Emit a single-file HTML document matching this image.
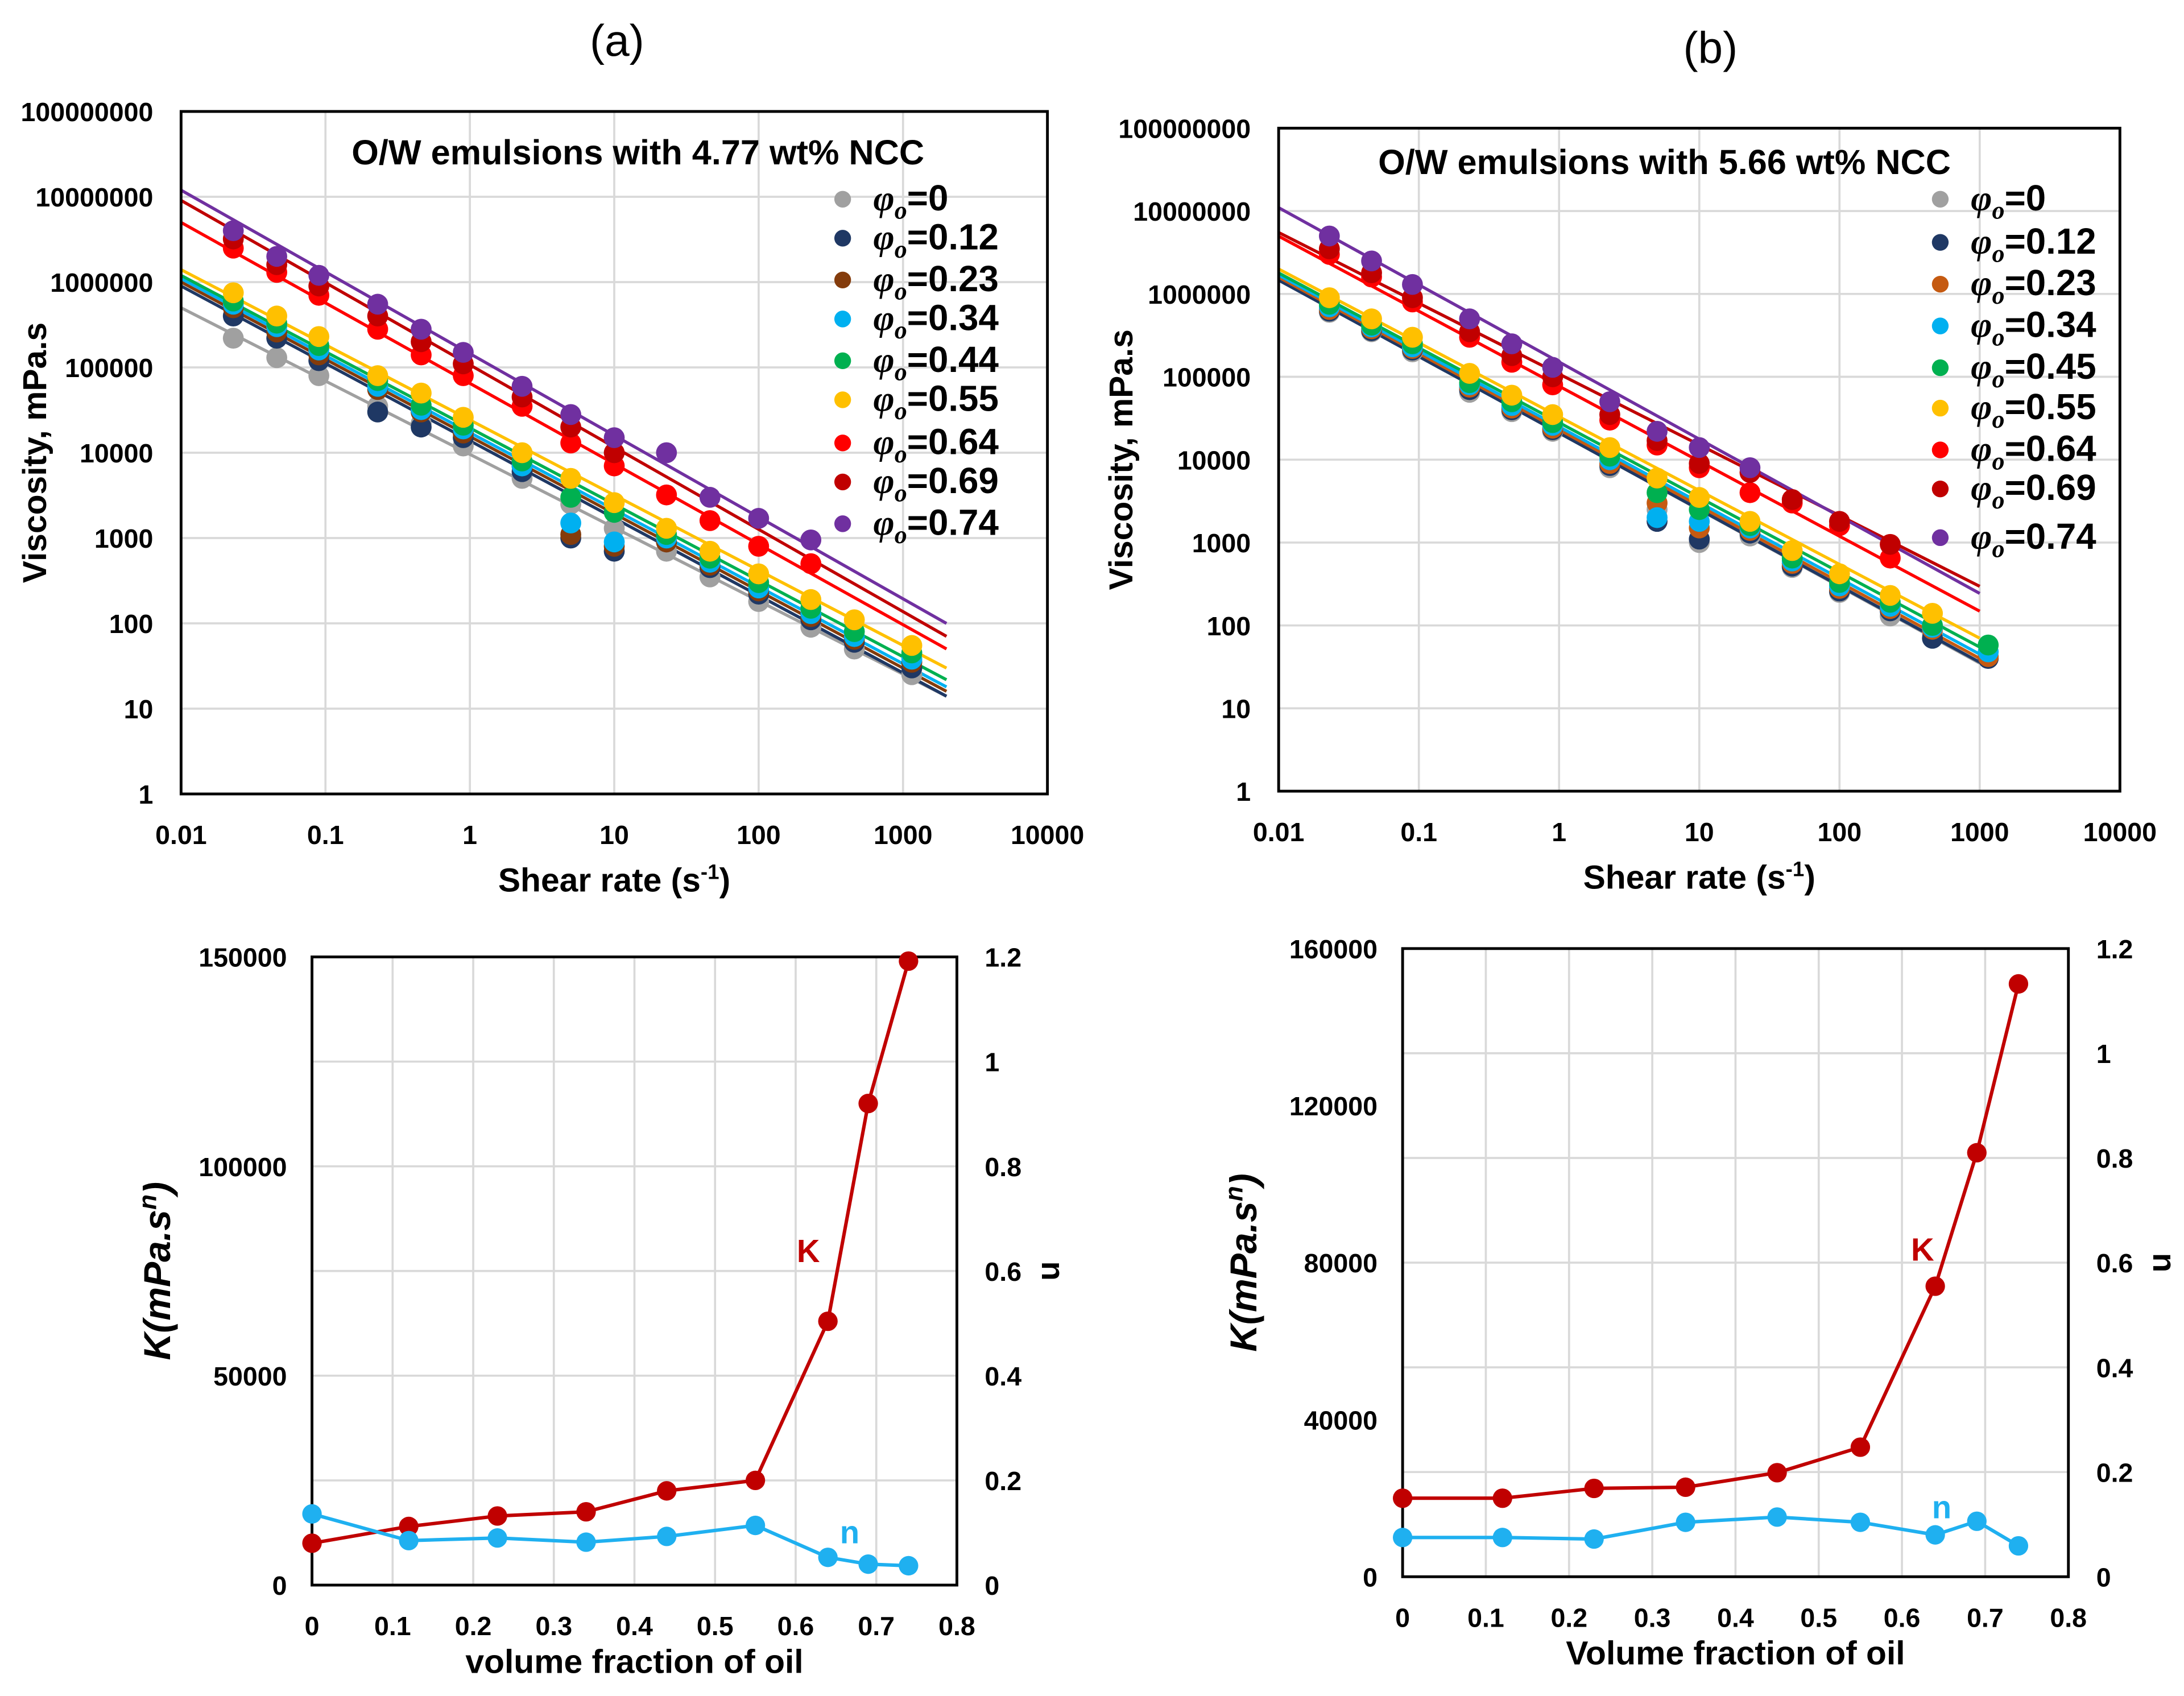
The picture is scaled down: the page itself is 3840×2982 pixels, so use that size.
<!DOCTYPE html>
<html><head><meta charset="utf-8"><style>
html,body{margin:0;padding:0;background:#fff}
svg{display:block}
text{font-family:"Liberation Sans",sans-serif}
</style></head><body>
<svg id="fig" width="3840" height="2982" viewBox="0 0 1568 1217.6" xmlns="http://www.w3.org/2000/svg"></svg>
<script>
// ---------- DATA ----------
const seriesLabelsA = ["0","0.12","0.23","0.34","0.44","0.55","0.64","0.69","0.74"];
const seriesLabelsB = ["0","0.12","0.23","0.34","0.45","0.55","0.64","0.69","0.74"];
const colorsA = ["#a0a0a0","#1f3864","#843c0c","#00b0f0","#00b050","#ffc000","#ff0000","#c00000","#7030a0"];
const colorsB = ["#a0a0a0","#1f3864","#c55a11","#00b0f0","#00b050","#ffc000","#ff0000","#c00000","#7030a0"];
const shearRates = [0.023,0.046,0.09,0.23,0.46,0.9,2.3,5,10,23,46,100,230,460,1150];
const viscA0 = [2.2e5,1.3e5,8e4,3.5e4,2.2e4,1.2e4,5e3,2.5e3,1.3e3,700,350,180,90,50,25];
const viscA1 = [4e5,2.2e5,1.2e5,3e4,2e4,1.5e4,6e3,1e3,700,900,450,220,110,60,30];
const viscA2 = [5e5,2.6e5,1.4e5,5.5e4,3e4,1.7e4,7e3,1.1e3,800,900,480,240,120,65,35];
const viscA3 = [5.5e5,3e5,1.6e5,6e4,3.2e4,1.9e4,7e3,1.5e3,900,1e3,520,260,130,70,38];
const viscA4 = [6e5,3.3e5,1.8e5,7e4,3.6e4,2.1e4,8e3,3e3,2e3,1.1e3,580,300,150,80,45];
const viscA5 = [7.5e5,4e5,2.3e5,8e4,5e4,2.6e4,1e4,5e3,2.6e3,1.3e3,700,380,190,110,55];
const viscA6 = [2.5e6,1.3e6,7e5,2.8e5,1.4e5,8e4,3.5e4,1.3e4,7e3,3.2e3,1.6e3,800,500,null,null];
const viscA7 = [3.2e6,1.6e6,9e5,4e5,2e5,1.1e5,4.5e4,2e4,1e4,null,null,null,null,null,null];
const viscA8 = [4e6,2e6,1.2e6,5.5e5,2.8e5,1.5e5,6e4,2.8e4,1.5e4,1e4,3e3,1.7e3,950,null,null];
const viscB0 = [6e5,3.5e5,2e5,6.5e4,3.8e4,2.2e4,8e3,2.5e3,1e3,1.2e3,500,250,130,80,40];
const viscB1 = [6.2e5,3.6e5,2.1e5,7e4,4e4,2.3e4,8.5e3,1.8e3,1.1e3,1.3e3,520,260,150,70,40];
const viscB2 = [6.5e5,3.8e5,2.2e5,7.5e4,4.2e4,2.4e4,9e3,3e3,1.5e3,1.4e3,560,280,160,90,42];
const viscB3 = [7e5,4e5,2.3e5,8e4,4.5e4,2.6e4,1e4,2e3,1.8e3,1.5e3,600,300,170,95,48];
const viscB4 = [7.5e5,4.2e5,2.5e5,8.5e4,5e4,2.8e4,1.1e4,4e3,2.5e3,1.6e3,650,330,190,100,58];
const viscB5 = [9e5,5e5,3e5,1.1e5,6e4,3.5e4,1.4e4,6e3,3.5e3,1.8e3,800,420,230,140,null];
const viscB6 = [3e6,1.6e6,8e5,3e5,1.5e5,8e4,3e4,1.5e4,8e3,4e3,3e3,1.6e3,650,null,null];
const viscB7 = [3.5e6,1.8e6,9e5,3.5e5,1.8e5,1e5,3.5e4,1.7e4,9e3,7e3,3.3e3,1.8e3,950,null,null];
const viscB8 = [5e6,2.5e6,1.3e6,5e5,2.5e5,1.3e5,5e4,2.2e4,1.4e4,8e3,null,null,null,null,null];
const kFitA = [9570,13800,15500,17200,19500,24200,65000,107000,145000];
const sFitA = [-0.859,-0.907,-0.905,-0.903,-0.894,-0.881,-0.943,-0.964,-0.958];
const kFitB = [21000,21000,23000,25000,28000,33000,77000,108000,151000];
const sFitB = [-0.926,-0.922,-0.92,-0.915,-0.903,-0.891,-0.905,-0.854,-0.931];
const oilA = [0,0.12,0.23,0.34,0.44,0.55,0.64,0.69,0.74];
const kA = [10000,14000,16500,17500,22500,25000,63000,115000,149000];
const nA = [0.136,0.085,0.09,0.082,0.093,0.114,0.053,0.04,0.037];
const oilB = [0,0.12,0.23,0.34,0.45,0.55,0.64,0.69,0.74];
const kB = [20000,20000,22500,22800,26500,33000,74000,108000,151000];
const nB = [0.075,0.075,0.072,0.104,0.114,0.104,0.08,0.106,0.059];
const logXTicks = ["0.01","0.1","1","10","100","1000","10000"];
const logYTicks = ["1","10","100","1000","10000","100000","1000000","10000000","100000000"];
const kTicksA = ["0","50000","100000","150000"];
const kTicksB = ["0","40000","80000","120000","160000"];
const nTicks = ["0","0.2","0.4","0.6","0.8","1","1.2"];
const fracTicks = ["0","0.1","0.2","0.3","0.4","0.5","0.6","0.7","0.8"];
const viscA = [viscA0,viscA1,viscA2,viscA3,viscA4,viscA5,viscA6,viscA7,viscA8];
const viscB = [viscB0,viscB1,viscB2,viscB3,viscB4,viscB5,viscB6,viscB7,viscB8];

// ---------- DRAW ----------
const svg = document.getElementById('fig');
const NS = "http://www.w3.org/2000/svg";
function mk(tag, attrs, parent, txt){
  const e = document.createElementNS(NS, tag);
  for (const k in attrs) e.setAttribute(k, attrs[k]);
  if (txt !== undefined) e.textContent = txt;
  (parent||svg).appendChild(e);
  return e;
}
function grp(name){
  const g = mk('g', {});
  
  
  return g;
}

function logChart(o){
  const g = grp(o.name);
  const X = v => o.x0 + (Math.log10(v) + 2) * (o.x1 - o.x0) / 6;
  const Y = v => o.y1 - Math.log10(v) * (o.y1 - o.y0) / 8;
  const grid = grp(o.name + '-grid'); g.appendChild(grid);
  logXTicks.forEach(t => { const x = X(+t); mk('line',{x1:x,x2:x,y1:o.y0,y2:o.y1,stroke:'#d9d9d9','stroke-width':1.5},grid); });
  logYTicks.forEach(t => { const y = Y(+t); mk('line',{x1:o.x0,x2:o.x1,y1:y,y2:y,stroke:'#d9d9d9','stroke-width':1.5},grid); });
  const tl = grp(o.name + '-tick-labels'); g.appendChild(tl);
  logXTicks.forEach(t => mk('text',{x:X(+t),y:o.y1+36,'text-anchor':'middle','font-size':19,'font-weight':'bold'},tl,t));
  logYTicks.forEach(t => mk('text',{x:o.x0-20,y:Y(+t)+7,'text-anchor':'end','font-size':19,'font-weight':'bold'},tl,t));
  const fits = grp(o.name + '-fit-lines'); g.appendChild(fits);
  o.K.forEach((k,i) => {
    const a = 0.01, b = o.xEnd;
    const l = mk('line',{x1:X(a),y1:Y(k*Math.pow(a,o.S[i])),x2:X(b),y2:Y(k*Math.pow(b,o.S[i])),stroke:o.colors[i],'stroke-width':2.2},fits);
    
    
  });
  o.data.forEach((arr,i) => {
    const sg = grp(o.name + '-series-' + o.labels[i]); g.appendChild(sg);
    arr.forEach((v,j) => { if (v == null) return;
      mk('circle',{cx:X(shearRates[j]),cy:Y(v),r:7.5,fill:o.colors[i]},sg); });
  });
  mk('rect',{x:o.x0,y:o.y0,width:o.x1-o.x0,height:o.y1-o.y0,fill:'none',stroke:'#000','stroke-width':2},g);
  const tt = mk('text',{x:o.titleX,y:o.titleY,'text-anchor':'middle','font-size':25,'font-weight':'bold'},g,o.title);
   
  const lg = grp(o.name + '-legend'); g.appendChild(lg);
  o.labels.forEach((lab,i) => {
    const y = o.legY[i];
    const e = grp('legend-entry-' + lab); lg.appendChild(e);
    mk('circle',{cx:o.legX,cy:y-8,r:6,fill:o.colors[i]},e);
    const t = mk('text',{x:o.legX+22,y:y,'font-size':26,'font-weight':'bold'},e);
    mk('tspan',{'font-family':'Liberation Serif, serif','font-style':'italic'},t,'φ');
    mk('tspan',{'font-family':'Liberation Serif, serif','font-style':'italic','font-size':18,dy:6},t,'o');
    mk('tspan',{dy:-6},t,'=' + lab);
  });
  const yl = mk('text',{transform:`translate(${o.yLabX},${(o.y0+o.y1)/2}) rotate(-90)`,'text-anchor':'middle','font-size':24,'font-weight':'bold'},g,'Viscosity, mPa.s');
   
  const xl = mk('text',{x:(o.x0+o.x1)/2,y:o.y1+70,'text-anchor':'middle','font-size':24,'font-weight':'bold'},g);
   
  mk('tspan',{},xl,'Shear rate (s');
  mk('tspan',{dy:-9,'font-size':15},xl,'-1');
  mk('tspan',{dy:9},xl,')');
}

function linChart(o){
  const g = grp(o.name);
  const X = v => o.x0 + v/0.8*(o.x1-o.x0);
  const YL = v => o.y1 - v/o.kMax*(o.y1-o.y0);
  const YR = v => o.y1 - v/1.2*(o.y1-o.y0);
  const grid = grp(o.name + '-grid'); g.appendChild(grid);
  fracTicks.forEach(t => { const x = X(+t); mk('line',{x1:x,x2:x,y1:o.y0,y2:o.y1,stroke:'#d9d9d9','stroke-width':1.5},grid); });
  nTicks.forEach(t => { const y = YR(+t); mk('line',{x1:o.x0,x2:o.x1,y1:y,y2:y,stroke:'#d9d9d9','stroke-width':1.5},grid); });
  const tl = grp(o.name + '-tick-labels'); g.appendChild(tl);
  fracTicks.forEach(t => mk('text',{x:X(+t),y:o.y1+36,'text-anchor':'middle','font-size':19,'font-weight':'bold'},tl,t));
  o.kTicks.forEach(t => mk('text',{x:o.x0-18,y:YL(+t)+7,'text-anchor':'end','font-size':19,'font-weight':'bold'},tl,t));
  nTicks.forEach(t => mk('text',{x:o.x1+20,y:YR(+t)+7,'font-size':19,'font-weight':'bold'},tl,t));
  mk('rect',{x:o.x0,y:o.y0,width:o.x1-o.x0,height:o.y1-o.y0,fill:'none',stroke:'#000','stroke-width':2},g);
  const kg = grp(o.name + '-K-series'); g.appendChild(kg);
  mk('polyline',{points:o.oil.map((x,i)=>X(x)+','+YL(o.k[i])).join(' '),fill:'none',stroke:'#c00000','stroke-width':2.5},kg);
  o.oil.forEach((x,i)=>mk('circle',{cx:X(x),cy:YL(o.k[i]),r:7,fill:'#c00000'},kg));
  const ng = grp(o.name + '-n-series'); g.appendChild(ng);
  mk('polyline',{points:o.oil.map((x,i)=>X(x)+','+YR(o.n[i])).join(' '),fill:'none',stroke:'#1fb0f0','stroke-width':2.5},ng);
  o.oil.forEach((x,i)=>mk('circle',{cx:X(x),cy:YR(o.n[i]),r:7,fill:'#1fb0f0'},ng));
  mk('text',{x:o.kAnn[0],y:o.kAnn[1],'font-size':23,'font-weight':'bold',fill:'#c00000'},g,'K');
  mk('text',{x:o.nAnn[0],y:o.nAnn[1],'font-size':23,'font-weight':'bold',fill:'#1fb0f0'},g,'n');
  const yl = mk('text',{transform:`translate(${o.yLabX},${(o.y0+o.y1)/2}) rotate(-90)`,'text-anchor':'middle','font-size':27,'font-weight':'bold','font-family':'Liberation Serif, serif','font-style':'italic'},g);
   
  mk('tspan',{},yl,'K(mPa.s');
  mk('tspan',{dy:-10,'font-size':18},yl,'n');
  mk('tspan',{dy:10},yl,')');
  const nl = mk('text',{transform:`translate(${o.nLabX},${(o.y0+o.y1)/2}) rotate(90)`,'text-anchor':'middle','font-size':23,'font-weight':'bold'},g,'n');
   
  const xl = mk('text',{x:(o.x0+o.x1)/2,y:o.y1+63,'text-anchor':'middle','font-size':24,'font-weight':'bold'},g,o.xTitle);
   
}

const pa = mk('text',{x:443,y:40,'text-anchor':'middle','font-size':32},svg,'(a)');
 
const pb = mk('text',{x:1228,y:45,'text-anchor':'middle','font-size':32},svg,'(b)');
 

logChart({name:'viscosity-chart-a',x0:130,x1:752,y0:80,y1:570,xEnd:2000,K:kFitA,S:sFitA,data:viscA,colors:colorsA,labels:seriesLabelsA,
  title:'O/W emulsions with 4.77 wt% NCC',titleX:458,titleY:118,legX:605,legY:[151,179,209,237,267,295,326,354,384],yLabX:33});
logChart({name:'viscosity-chart-b',x0:918,x1:1522,y0:92,y1:568,xEnd:1000,K:kFitB,S:sFitB,data:viscB,colors:colorsB,labels:seriesLabelsB,
  title:'O/W emulsions with 5.66 wt% NCC',titleX:1195,titleY:125,legX:1393,legY:[151,182,212,242,272,301,331,359,394],yLabX:813});
linChart({name:'k-n-chart-a',x0:224,x1:687,y0:687,y1:1138,kMax:150000,kTicks:kTicksA,oil:oilA,k:kA,n:nA,
  kAnn:[572,906],nAnn:[603,1108],yLabX:122,nLabX:748,xTitle:'volume fraction of oil'});
linChart({name:'k-n-chart-b',x0:1007,x1:1485,y0:681,y1:1132,kMax:160000,kTicks:kTicksB,oil:oilB,k:kB,n:nB,
  kAnn:[1372,905],nAnn:[1387,1090],yLabX:902,nLabX:1546,xTitle:'Volume fraction of oil'});
</script>
</body></html>
